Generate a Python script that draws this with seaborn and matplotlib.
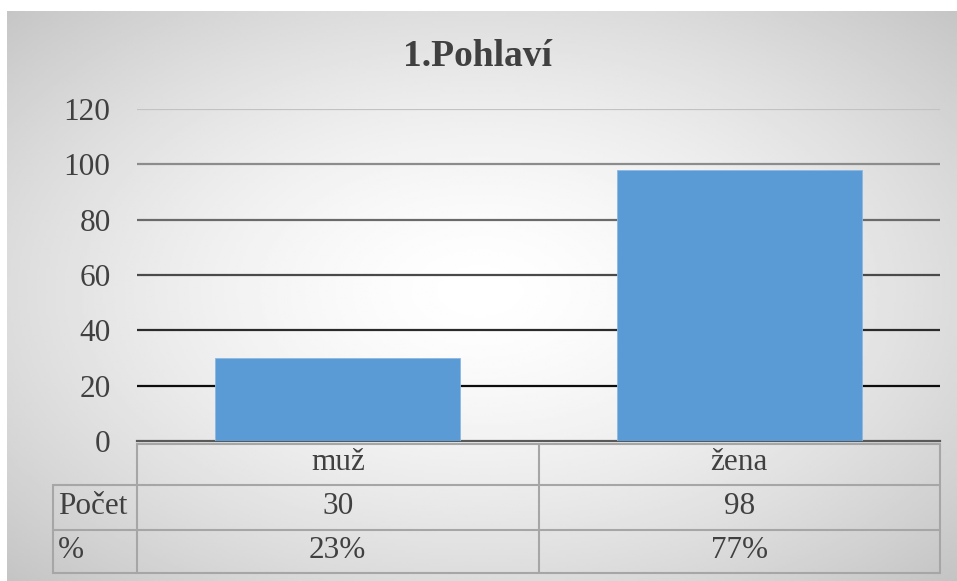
import numpy as np
import matplotlib
matplotlib.use("Agg")
import matplotlib.pyplot as plt
import seaborn as sns

# data
kategorie = ["muž", "žena"]
pocet = [30, 98]
procenta = ["23%", "77%"]
radky = ["Počet", "%"]
y_ticks = [0, 20, 40, 60, 80, 100, 120]

sns.set_style("white")
plt.rcParams["font.family"] = ["Liberation Serif", "DejaVu Serif"]

W, H = 957, 581
fig = plt.figure(figsize=(W / 100, H / 100), dpi=100)
fig.patch.set_facecolor("white")

# radial grey gradient of the chart area (Excel style)
bg = fig.add_axes([0, 0, 1, 1], zorder=-10)
gx, gy = np.meshgrid(np.linspace(7, W, 400), np.linspace(0, H - 11, 250))
r = np.sqrt(((gx - 480) / 475) ** 2 + ((gy - 290) / 290) ** 2)
shade = np.clip(255 - 35 * r ** 1.5, 150, 255) / 255
bg.imshow(shade, cmap="gray", vmin=0, vmax=1, extent=[7, W, 0, H - 11],
          origin="lower", aspect="auto", interpolation="bilinear")
bg.set_xlim(0, W)
bg.set_ylim(0, H)
bg.axis("off")

# bar chart
L, R = 137 / W, 940 / W
ax = fig.add_axes([L, (H - 441) / H, R - L, (441 - 109) / H])
ax.set_facecolor("none")
sns.barplot(x=kategorie, y=pocet, color="#5b9bd5", saturation=1,
            width=0.61, ax=ax, zorder=3, edgecolor="#8db8e2", linewidth=0.6)
ax.set_ylim(0, 120)
ax.set_xlim(-0.5, 1.5)
ax.set_yticks(y_ticks)
ax.set_xticks([])
ax.set_xlabel("")
ax.set_ylabel("")
ax.tick_params(axis="y", length=0, pad=19, labelsize=22.5, labelcolor="#404040")
ax.yaxis.grid(True, linewidth=1.6)
grid_cols = ["#595959", "#0d0d0d", "#2b2b2b", "#4a4a4a", "#6a6a6a", "#8c8c8c", "#c2c2c2"]
for gl, c in zip(ax.get_ygridlines(), grid_cols):
    gl.set_color(c)
ax.get_ygridlines()[0].set_visible(False)
ax.set_axisbelow(True)
for s in ["top", "left", "right"]:
    ax.spines[s].set_visible(False)
ax.spines["bottom"].set_color("#595959")
ax.spines["bottom"].set_linewidth(1.6)

fig.text(478 / W, 1 - 57 / H, "1.Pohlaví", fontsize=27, fontweight="bold",
         color="#404040", ha="center", va="center")

# data table under the chart
tab = fig.add_axes([L, (H - 573) / H, R - L, (573 - 441) / H])
tab.set_xlim(-0.5, 1.5)
tab.set_ylim(132, 0)
tab.axis("off")
left = -0.5 - (137 - 53) / 401.5
line_kw = dict(color="#a6a6a6", linewidth=1.5, clip_on=False)
tab.plot([-0.5, 1.5], [3, 3], **line_kw)
for yy in [44, 89, 132]:
    tab.plot([left, 1.5], [yy, yy], **line_kw)
for xx in [-0.5, 0.5, 1.5]:
    tab.plot([xx, xx], [3, 132], **line_kw)
tab.plot([left, left], [44, 132], **line_kw)

txt = dict(fontsize=22.5, color="#404040", va="center")
for i, k in enumerate(kategorie):
    tab.text(i, 22, k, ha="center", **txt)
    tab.text(i, 66, str(pocet[i]), ha="center", **txt)
    tab.text(i, 110, procenta[i], ha="center", **txt)
for yy, lab in zip([66, 110], radky):
    tab.text(left + 0.012, yy, lab, ha="left", clip_on=False, **txt)

fig.savefig("out.png", dpi=100)
